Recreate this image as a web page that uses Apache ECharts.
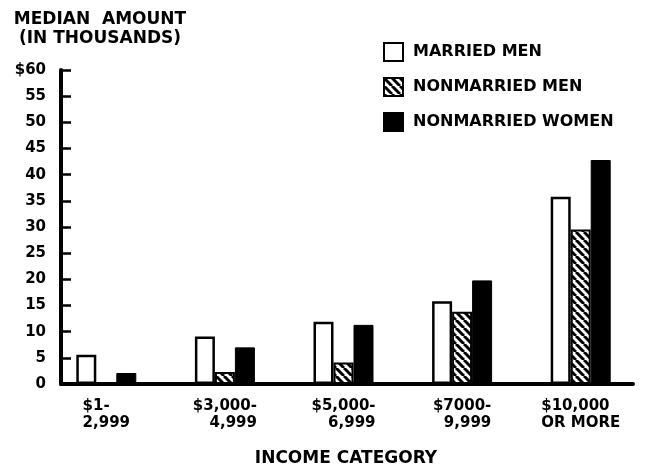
<!DOCTYPE html>
<html>
<head>
<meta charset="utf-8">
<script src="https://cdn.jsdelivr.net/npm/echarts@6/dist/echarts.min.js"></script>
<style>
  html, body { margin: 0; padding: 0; background: #fff; }
  #chart { width: 646px; height: 467px; }
</style>
</head>
<body>
<div id="chart"></div>
<script>
const categories = ['$1-\n2,999', '$3,000-\n4,999', '$5,000-\n6,999', '$7000-\n9,999', '$10,000\nOR MORE'];
const seriesNames = ['MARRIED MEN', 'NONMARRIED MEN', 'NONMARRIED WOMEN'];
const marriedMen = [5.6, 9.1, 11.9, 15.8, 35.8];
const nonmarriedMen = [0, 2.3, 4.1, 13.8, 29.5];
const nonmarriedWomen = [2.1, 7, 11.3, 19.8, 42.8];
const yTickLabels = ['0', '5', '10', '15', '20', '25', '30', '35', '40', '45', '50', '55', '$60'];

const FONT = 'DejaVu Sans';

// diagonal hatch used for the nonmarried men bars
function hatch() {
    var s = 8;
    var c = document.createElement('canvas');
    c.width = s; c.height = s;
    var g = c.getContext('2d');
    g.fillStyle = '#fff';
    g.fillRect(0, 0, s, s);
    g.strokeStyle = '#000';
    g.lineWidth = 3;
    [-s, 0, s].forEach(function (x0) {
        g.beginPath();
        g.moveTo(x0, 0);
        g.lineTo(x0 + s, s);
        g.stroke();
    });
    return c;
}

var myChart = echarts.init(document.getElementById('chart'), null, { renderer: 'canvas' });

var option = {
    animation: false,
    backgroundColor: '#fff',
    graphic: [
        {
            type: 'text',
            x: 100,
            y: 10,
            style: {
                text: 'MEDIAN  AMOUNT\n(IN THOUSANDS)',
                textAlign: 'center',
                font: 'bold 17px "DejaVu Sans"',
                lineHeight: 19,
                fill: '#000'
            }
        },
        {
            type: 'text',
            x: 346,
            y: 450,
            style: {
                text: 'INCOME CATEGORY',
                textAlign: 'center',
                font: 'bold 17px "DejaVu Sans"',
                fill: '#000'
            }
        }
    ],
    legend: {
        orient: 'vertical',
        left: 383,
        top: 42,
        padding: 0,
        itemWidth: 19,
        itemHeight: 18,
        itemGap: 15,
        icon: 'rect',
        selectedMode: false,
        textStyle: {
            fontFamily: FONT,
            fontWeight: 'bold',
            fontSize: 16,
            color: '#000',
            padding: [0, 0, 0, 5]
        },
        data: seriesNames
    },
    grid: [
        // axes frame
        { left: 61, right: 13, top: 70, bottom: 83 },
        // bars
        { left: 47, right: 6, top: 70, bottom: 83 }
    ],
    xAxis: [
        {
            gridIndex: 0,
            type: 'value',
            min: 0,
            max: 1,
            z: 10,
            axisLine: { show: true, lineStyle: { color: '#000', width: 4 } },
            axisTick: { show: false },
            axisLabel: { show: false },
            splitLine: { show: false }
        },
        {
            gridIndex: 1,
            type: 'category',
            data: categories,
            axisLine: { show: false },
            axisTick: { show: false },
            axisLabel: {
                margin: 14,
                formatter: function (value, index) {
                    var lines = value.split('\n');
                    var key = (index === 0 || index === 4) ? 'l' : 'r';
                    return lines.map(function (t) { return '{' + key + '|' + t + '}'; }).join('\n');
                },
                rich: {
                    l: { align: 'left', fontFamily: FONT, fontWeight: 'bold', fontSize: 15, lineHeight: 17, color: '#000' },
                    r: { align: 'right', fontFamily: FONT, fontWeight: 'bold', fontSize: 15, lineHeight: 17, color: '#000' }
                }
            }
        }
    ],
    yAxis: [
        {
            gridIndex: 0,
            type: 'value',
            min: 0,
            max: 60,
            interval: 5,
            z: 10,
            axisLine: { show: true, lineStyle: { color: '#000', width: 4 } },
            axisTick: { show: true, inside: true, length: 10, lineStyle: { color: '#000', width: 2.5 } },
            splitLine: { show: false },
            axisLabel: {
                margin: 15,
                fontFamily: FONT,
                fontWeight: 'bold',
                fontSize: 15,
                color: '#000',
                formatter: function (v) { return yTickLabels[Math.round(v / 5)]; }
            }
        },
        {
            gridIndex: 1,
            type: 'value',
            min: 0,
            max: 60,
            show: false
        }
    ],
    series: [
        {
            name: seriesNames[0],
            type: 'bar',
            xAxisIndex: 1,
            yAxisIndex: 1,
            barWidth: 20,
            barGap: '0%',
            itemStyle: { color: '#fff', borderColor: '#000', borderWidth: 2.5 },
            data: marriedMen
        },
        {
            name: seriesNames[1],
            type: 'bar',
            xAxisIndex: 1,
            yAxisIndex: 1,
            barWidth: 20,
            barGap: '0%',
            itemStyle: { color: { image: hatch(), repeat: 'repeat' }, borderColor: '#000', borderWidth: 2 },
            data: nonmarriedMen
        },
        {
            name: seriesNames[2],
            type: 'bar',
            xAxisIndex: 1,
            yAxisIndex: 1,
            barWidth: 20,
            barGap: '0%',
            itemStyle: { color: '#000', borderColor: '#000', borderWidth: 1 },
            data: nonmarriedWomen
        }
    ]
};

myChart.setOption(option);
</script>
</body>
</html>
